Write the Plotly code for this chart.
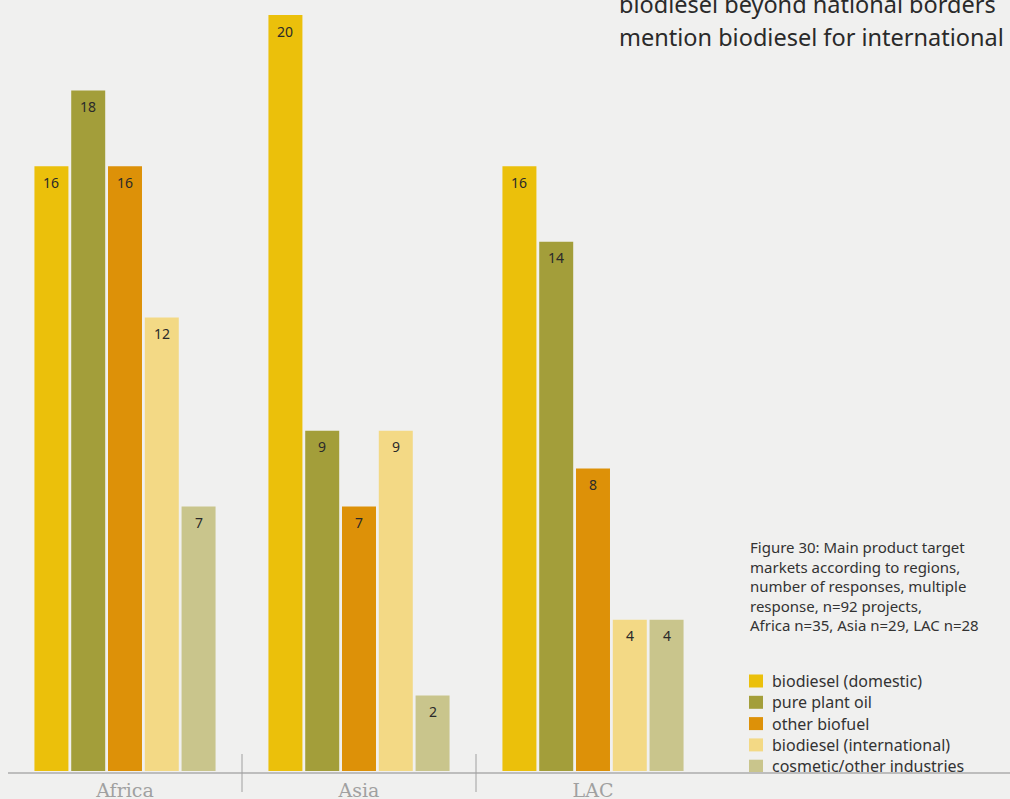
import plotly.graph_objects as go

regions = ["Africa", "Asia", "LAC"]
series_names = ["biodiesel (domestic)", "pure plant oil", "other biofuel",
                "biodiesel (international)", "cosmetic/other industries"]
biodiesel_domestic = [16, 20, 16]
pure_plant_oil = [18, 9, 14]
other_biofuel = [16, 7, 8]
biodiesel_international = [12, 9, 4]
cosmetic_other = [7, 2, 4]
series_values = [biodiesel_domestic, pure_plant_oil, other_biofuel,
                 biodiesel_international, cosmetic_other]
colors = ["#ebc00b", "#a39e3a", "#dd9108", "#f3d985", "#c9c58c"]

caption_lines = ["Figure 30: Main product target", "markets according to regions,",
                 "number of responses, multiple", "response, n=92 projects,",
                 "Africa n=35, Asia n=29, LAC n=28"]
top_lines = ["biodiesel beyond national borders", "mention biodiesel for international"]

W, H = 1010, 799
L, R, T, B = 8, 300, 15, 28
pw, ph = W - L - R, H - T - B


def px_to_paper(x, y):
    return (x - L) / pw, (H - B - y) / ph


fig = go.Figure()
for name, vals, col in zip(series_names, series_values, colors):
    fig.add_trace(go.Bar(x=regions, y=vals, name=name, marker_color=col,
                         marker_line_width=0, showlegend=False, hoverinfo="skip"))

annotations = []
slot = 36.8
for i, vals in enumerate(series_values):
    for r, v in zip(regions, vals):
        annotations.append(dict(x=r, y=v, xref="x", yref="y", text=str(v),
                                showarrow=False, xshift=(i - 2) * slot, yshift=-16,
                                font=dict(family="Noto Sans", size=14, color="#2a2a2a")))

# caption
for k, line in enumerate(caption_lines):
    cx, cy = px_to_paper(748, 547 + k * 19.5)
    annotations.append(dict(x=cx, y=cy, xref="paper", yref="paper", text=line,
                            showarrow=False, xanchor="left", yanchor="middle",
                            font=dict(family="Noto Sans", size=15, color="#333333")))

# top text
for k, line in enumerate(top_lines):
    tx, ty = px_to_paper(617, 4 + k * 33)
    annotations.append(dict(x=tx, y=ty, xref="paper", yref="paper", text=line,
                            showarrow=False, xanchor="left", yanchor="middle",
                            font=dict(family="Noto Sans", size=23.5, color="#2a2a2a")))

shapes = []
# manual legend
for k, (name, col) in enumerate(zip(series_names, colors)):
    yc = 681 + k * 21.3
    sx0, sy0 = px_to_paper(749, yc - 6.5)
    sx1, sy1 = px_to_paper(763, yc + 6.5)
    shapes.append(dict(type="rect", xref="paper", yref="paper", x0=sx0, x1=sx1,
                       y0=sy1, y1=sy0, fillcolor=col, line=dict(width=0)))
    ax, ay = px_to_paper(770, yc)
    annotations.append(dict(x=ax, y=ay, xref="paper", yref="paper", text=name,
                            showarrow=False, xanchor="left", yanchor="middle",
                            font=dict(family="Noto Sans", size=16, color="#333333")))

x0, _ = px_to_paper(8, 0)
x1, _ = px_to_paper(1012, 0)
_, yl = px_to_paper(0, 773)
shapes.append(dict(type="line", xref="paper", yref="paper", x0=x0, x1=x1, y0=yl, y1=yl,
                   line=dict(color="#bdbdbd", width=2)))
_, ys0 = px_to_paper(0, 754)
_, ys1 = px_to_paper(0, 792)
for xs in [0.5, 1.5]:
    shapes.append(dict(type="line", xref="x", yref="paper", x0=xs, x1=xs, y0=ys0, y1=ys1,
                       line=dict(color="#a0a0a0", width=1)))

fig.update_layout(
    width=W, height=H,
    margin=dict(l=L, r=R, t=T, b=B),
    paper_bgcolor="#f0f0ef", plot_bgcolor="#f0f0ef",
    barmode="group", bargap=0.214, bargroupgap=0.076,
    xaxis=dict(range=[-0.5, 2.5], showgrid=False, showline=False, ticks="",
               ticklabelstandoff=6, automargin=False,
               tickfont=dict(family="DejaVu Serif", size=19, color="#a0a0a0")),
    yaxis=dict(range=[0, 20], visible=False, automargin=False),
    showlegend=False,
    hovermode=False,
    annotations=annotations,
    shapes=shapes,
)

fig.write_html("out.html", config={"displayModeBar": False},
               post_script="document.body.style.margin='0';")
